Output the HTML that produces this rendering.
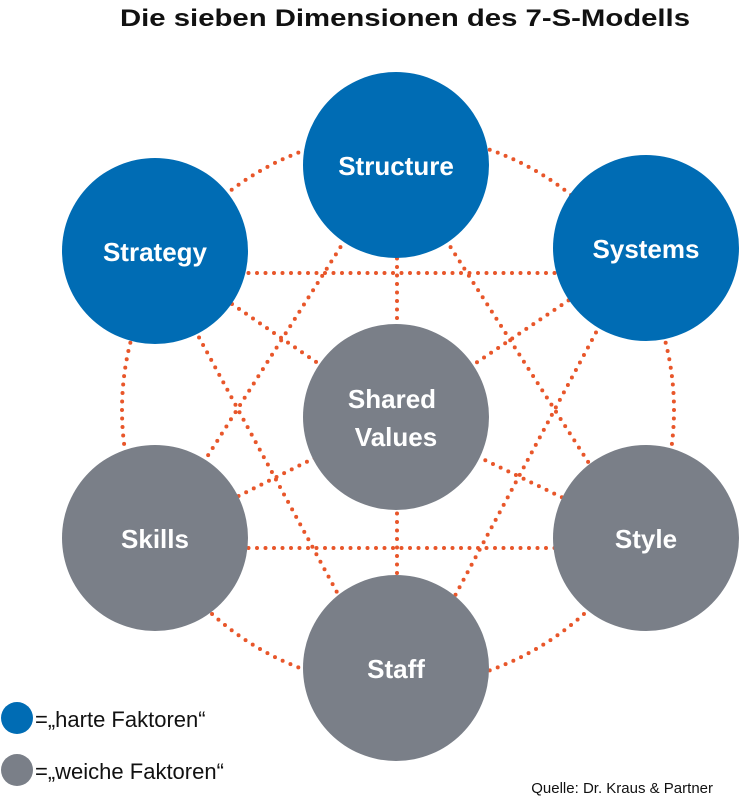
<!DOCTYPE html>
<html><head><meta charset="utf-8"><style>
html,body{margin:0;padding:0;background:#fff;}
svg{display:block;}
text{font-family:"Liberation Sans",sans-serif;}
</style></head><body>
<svg width="739" height="800" viewBox="0 0 739 800">
<text x="405" y="26" text-anchor="middle" font-size="24" font-weight="bold" fill="#111" textLength="570" lengthAdjust="spacingAndGlyphs">Die sieben Dimensionen des 7-S-Modells</text>
<g stroke="#e8562a" stroke-width="4" stroke-linecap="round" stroke-dasharray="0 8.5" fill="none">
<circle cx="398" cy="410" r="276"/>
<line x1="155" y1="273" x2="646" y2="273"/>
<line x1="155" y1="548" x2="646" y2="548"/>
<line x1="397" y1="165" x2="397" y2="668"/>
<line x1="155" y1="251" x2="396" y2="417"/>
<line x1="646" y1="248" x2="396" y2="417"/>
<line x1="155" y1="538" x2="396" y2="417"/>
<line x1="646" y1="538" x2="396" y2="417"/>
<line x1="195" y1="330" x2="352" y2="620"/>
<line x1="600" y1="325" x2="442" y2="620"/>
<line x1="345" y1="240" x2="200" y2="468"/>
<line x1="446" y1="240" x2="592" y2="468"/>
</g>
<g fill="#006cb4">
<circle cx="396" cy="165" r="93"/>
<circle cx="155" cy="251" r="93"/>
<circle cx="646" cy="248" r="93"/>
</g>
<g fill="#7a7f88">
<circle cx="396" cy="417" r="93"/>
<circle cx="155" cy="538" r="93"/>
<circle cx="646" cy="538" r="93"/>
<circle cx="396" cy="668" r="93"/>
</g>
<g fill="#fff" font-size="26" font-weight="bold" text-anchor="middle">
<text x="396" y="175">Structure</text>
<text x="155" y="261">Strategy</text>
<text x="646" y="258">Systems</text>
<text x="392" y="408">Shared</text>
<text x="396" y="446">Values</text>
<text x="155" y="548">Skills</text>
<text x="646" y="548">Style</text>
<text x="396" y="678">Staff</text>
</g>
<circle cx="17" cy="718" r="16" fill="#006cb4"/>
<circle cx="17" cy="770" r="16" fill="#7a7f88"/>
<text x="35" y="727" font-size="22" fill="#111">=„harte Faktoren“</text>
<text x="35" y="779" font-size="22" fill="#111">=„weiche Faktoren“</text>
<text x="713" y="793" font-size="15" fill="#111" text-anchor="end">Quelle: Dr. Kraus &amp; Partner</text>
</svg>
</body></html>
